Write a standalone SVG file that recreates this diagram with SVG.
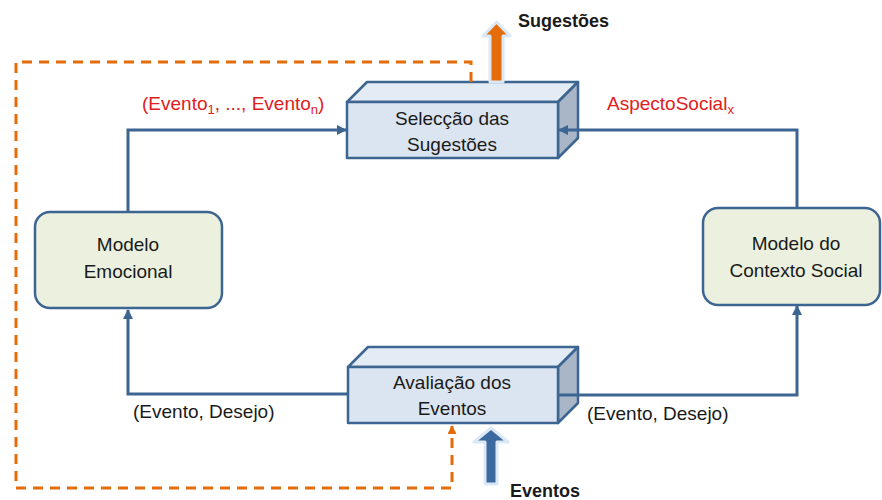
<svg xmlns="http://www.w3.org/2000/svg" width="882" height="500" viewBox="0 0 882 500">
<defs>
<style>
text{font-family:"Liberation Sans",Arial,sans-serif;font-size:19px;fill:#1a1a1a}
.c{text-anchor:middle}
.red{fill:#e0201b}
.b{font-weight:bold;font-size:18px}
.front{fill:#dbe5f1;stroke:#3d6591;stroke-width:2.5;stroke-linejoin:round}
.top{fill:#e3ebf5;stroke:#3d6591;stroke-width:2.5;stroke-linejoin:round}
.side{fill:#a8b6c8;stroke:#3d6591;stroke-width:2.5;stroke-linejoin:round}
.model{fill:#ebf1de;stroke:#3d6591;stroke-width:2.5}
.conn{fill:none;stroke:#3d6591;stroke-width:3;marker-end:url(#ah)}
.dash{fill:none;stroke:#e46c0a;stroke-width:3;stroke-dasharray:10 7;marker-end:url(#oh)}
</style>
<marker id="ah" viewBox="0 0 10 10" refX="9" refY="5" markerWidth="10" markerHeight="10" markerUnits="userSpaceOnUse" orient="auto">
<path d="M0,0 L10,5 L0,10 Z" fill="#3d6591"/>
</marker>
<marker id="oh" viewBox="0 0 10 10" refX="9" refY="5" markerWidth="9" markerHeight="9" markerUnits="userSpaceOnUse" orient="auto">
<path d="M0,0 L10,5 L0,10 Z" fill="#e46c0a"/>
</marker>
</defs>
<rect width="882" height="500" fill="#ffffff"/>

<g id="selecao">
<polygon class="top" points="347,102 367,82 578,82 558,102"/>
<polygon class="side" points="558,102 578,82 578,138 558,158"/>
<rect class="front" x="347" y="102" width="211" height="56"/>
<text class="c" x="452" y="125">Selecção das</text>
<text class="c" x="452" y="151">Sugestões</text>
</g>

<g id="avaliacao">
<polygon class="top" points="348,367 368,347 578,347 558,367"/>
<polygon class="side" points="558,367 578,347 578,403 558,423"/>
<rect class="front" x="348" y="367" width="210" height="56"/>
<text class="c" x="452" y="389">Avaliação dos</text>
<text class="c" x="452" y="415">Eventos</text>
</g>

<g id="emocional">
<rect class="model" x="35" y="212" width="187" height="96" rx="15"/>
<text class="c" x="128" y="251">Modelo</text>
<text class="c" x="128" y="278">Emocional</text>
</g>

<g id="contexto">
<rect class="model" x="703" y="208" width="177" height="97" rx="15"/>
<text class="c" x="796" y="250">Modelo do</text>
<text class="c" x="796" y="277">Contexto Social</text>
</g>

<g id="sugestoes-out">
<polygon points="490,82 490,36 483,36 496.5,22 510,36 503,36 503,82" fill="#e46c0a" stroke="#dbe8f5" stroke-width="3" stroke-linejoin="round"/>
<text class="b" x="518" y="27">Sugestões</text>
</g>

<g id="eventos-in">
<polygon points="485,484 485,442 474,442 491,428 508,442 497,442 497,484" fill="#3c6aa0" stroke="#dbe8f5" stroke-width="3" stroke-linejoin="round"/>
<text class="b" x="510" y="497">Eventos</text>
</g>

<g id="connectors">
<path class="conn" d="M128,212 V130 H346"/>
<path class="conn" d="M797,208 V130 H559"/>
<path class="conn" d="M348,394 H128 V310"/>
<path class="conn" d="M558,395 H797 V306"/>
<path class="dash" d="M471,82 V62 H16 V488 H452 V426"/>
</g>

<g id="labels">
<text class="red" x="142" y="110">(Evento<tspan font-size="13" dy="4">1</tspan><tspan dy="-4">, ..., Evento</tspan><tspan font-size="13" dy="4">n</tspan><tspan dy="-4">)</tspan></text>
<text class="red" x="607" y="110">AspectoSocial<tspan font-size="13" dy="4">x</tspan></text>
<text x="133" y="418">(Evento, Desejo)</text>
<text x="587" y="420">(Evento, Desejo)</text>
</g>
</svg>
